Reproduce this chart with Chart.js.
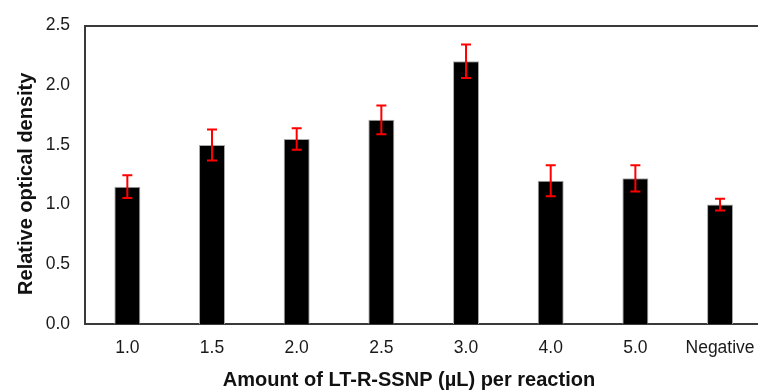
<!DOCTYPE html>
<html>
<head>
<meta charset="utf-8">
<script src="https://cdn.jsdelivr.net/npm/chart.js@4/dist/chart.umd.min.js"></script>
<style>
  html, body { margin: 0; padding: 0; background: #fff; overflow: hidden; }
  #wrap { width: 758px; height: 392px; overflow: hidden; position: relative; }
  canvas { display: block; }
</style>
</head>
<body>
<div id="wrap"><canvas id="c" width="769" height="392"></canvas></div>
<script>
const categories = ['1.0', '1.5', '2.0', '2.5', '3.0', '4.0', '5.0', 'Negative'];
const densityValues = [1.15, 1.50, 1.55, 1.71, 2.20, 1.20, 1.22, 1.00];
const densityErrors = [0.095, 0.13, 0.09, 0.12, 0.14, 0.13, 0.11, 0.05];
const yTickValues = [0, 0.5, 1.0, 1.5, 2.0, 2.5];
const xTitleText = 'Amount of LT-R-SSNP (µL) per reaction';
const yTitleText = 'Relative optical density';

const FONT = "'Liberation Sans', Arial, sans-serif";

const errorBarPlugin = {
  id: 'errorBars',
  afterDatasetsDraw(chart) {
    const ctx = chart.ctx;
    const meta = chart.getDatasetMeta(0);
    const ys = chart.scales.y;
    ctx.save();
    ctx.strokeStyle = '#ff0000';
    ctx.lineWidth = 2;
    meta.data.forEach((bar, i) => {
      const v = densityValues[i], e = densityErrors[i];
      const x = bar.x;
      const yTop = ys.getPixelForValue(v + e);
      const yBot = ys.getPixelForValue(v - e);
      const cap = 5;
      ctx.beginPath();
      ctx.moveTo(x, yTop); ctx.lineTo(x, yBot);
      ctx.moveTo(x - cap, yTop); ctx.lineTo(x + cap, yTop);
      ctx.moveTo(x - cap, yBot); ctx.lineTo(x + cap, yBot);
      ctx.stroke();
    });
    ctx.restore();
  }
};

const axisTitlePlugin = {
  id: 'axisTitles',
  afterDraw(chart) {
    const ctx = chart.ctx;
    const ca = chart.chartArea;
    ctx.save();
    ctx.fillStyle = '#111';
    ctx.font = "bold 20px " + FONT;
    ctx.textAlign = 'center';
    ctx.textBaseline = 'alphabetic';
    ctx.fillText(xTitleText, ca.left + 324, 386);
    ctx.translate(32, (ca.top + ca.bottom) / 2 + 9);
    ctx.rotate(-Math.PI / 2);
    ctx.fillText(yTitleText, 0, 0);
    ctx.restore();
  }
};

new Chart(document.getElementById('c'), {
  type: 'bar',
  data: {
    labels: categories,
    datasets: [{
      data: densityValues,
      backgroundColor: '#000000',
      borderColor: '#a8a8a8',
      borderWidth: 1,
      categoryPercentage: 1.0,
      barPercentage: 0.307
    }]
  },
  options: {
    responsive: false,
    animation: false,
    devicePixelRatio: 1,
    layout: { padding: { top: 23, left: 0, right: 0, bottom: 0 } },
    plugins: { legend: { display: false }, tooltip: { enabled: false } },
    scales: {
      x: {
        position: 'bottom',
        grid: { display: false, drawTicks: false },
        border: { display: true, color: '#3a3a3a', width: 2 },
        ticks: { color: '#1a1a1a', font: { family: FONT, size: 17.5 }, padding: 14, maxRotation: 0, autoSkip: false },
        afterFit(scale) { scale.height = 68; }
      },
      xTop: {
        type: 'category',
        position: 'top',
        labels: categories,
        grid: { display: false, drawTicks: false },
        border: { display: true, color: '#3a3a3a', width: 2 },
        ticks: { display: false },
        afterFit(scale) { scale.height = 0; }
      },
      y: {
        min: 0, max: 2.5,
        afterBuildTicks(scale) { scale.ticks = yTickValues.map(v => ({ value: v })); },
        grid: { display: false, drawTicks: false },
        border: { display: true, color: '#3a3a3a', width: 2 },
        ticks: {
          color: '#1a1a1a', font: { family: FONT, size: 17.5 }, padding: 15,
          callback: v => Number(v).toFixed(1)
        },
        afterFit(scale) { scale.width = 85; }
      }
    }
  },
  plugins: [errorBarPlugin, axisTitlePlugin]
});
</script>
</body>
</html>
